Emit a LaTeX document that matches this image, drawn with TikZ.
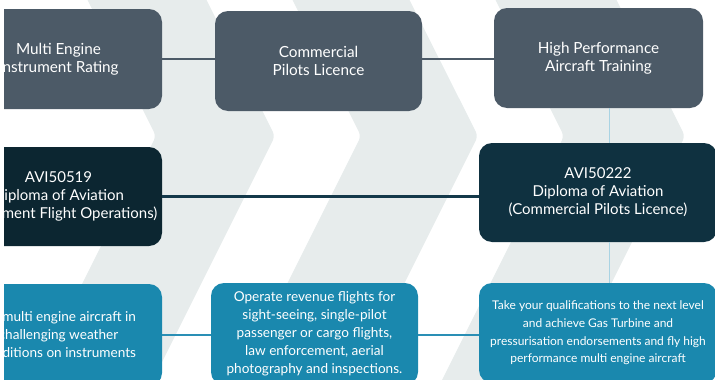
\documentclass[tikz,border=0pt]{standalone}
\usepackage{fontspec}
\setmainfont{Lato}
\definecolor{chevgray}{HTML}{E7ECEC}
\definecolor{boxgray}{HTML}{4C5A67}
\definecolor{navyA}{HTML}{0C2631}
\definecolor{navyB}{HTML}{0F3140}
\definecolor{tealbox}{HTML}{1A88AE}
\definecolor{tealline}{HTML}{2A8FB5}
\definecolor{navyline}{HTML}{14394A}
\definecolor{vline}{HTML}{A9D3E3}
\begin{document}
\begin{tikzpicture}[x=1pt,y=-1pt,
  box/.style={rectangle, rounded corners=13pt, text=white, align=center, inner sep=0pt},
  graybox/.style={box, fill=boxgray, minimum height=100pt, font=\fontsize{15.3}{18}\selectfont},
  navybox/.style={box, minimum height=99pt, font=\fontsize{15}{18}\selectfont},
  tealnode/.style={box, fill=tealbox, font=\fontsize{13.6}{18}\selectfont},
  gconn/.style={draw=boxgray, line width=2.6pt},
  nconn/.style={draw=navyline, line width=2.6pt},
  tconn/.style={draw=tealline, line width=2.2pt},
  vconn/.style={draw=vline, line width=1pt},
  chev/.style={fill=chevgray, rounded corners=5pt}]
\useasboundingbox (0,0) rectangle (715,380);
\begin{scope}
\clip (4,0) rectangle (715,380);
% background chevrons
\foreach \tl/\tr in {156/275, 361/478, 564/685} {
  \fill[chev] (\tl-73.5,-10) -- (\tl,136) -- (\tl-127,390) -- (\tr-127,390) -- (\tr,136) -- (\tr-73.5,-10) -- cycle;
}
% row 1
\node[graybox, minimum width=207pt] (A) at (58.5,59) {Multi Engine\\Instrument Rating};
\node[graybox, minimum width=207pt] (B) at (318.5,61) {Commercial\\Pilots Licence};
\node[graybox, minimum width=209pt] (H) at (598.5,58) {High Performance\\Aircraft Training};
% row 2
\node[navybox, fill=navyA, minimum width=207pt] (D1) at (58.5,196.5) {AVI50519\\Diploma of Aviation\\(Instrument Flight Operations)};
\node[navybox, fill=navyB, minimum width=238pt] (D2) at (598,192.5) {AVI50222\\Diploma of Aviation\\(Commercial Pilots Licence)};
% row 3
\node[tealnode, minimum width=207pt, minimum height=102pt] (L) at (58.5,335) {Fly multi engine aircraft in\\challenging weather\\conditions on instruments};
\node[tealnode, minimum width=207pt, minimum height=102pt] (M) at (314.5,334) {Operate revenue flights for\\sight-seeing, single-pilot\\passenger or cargo flights,\\law enforcement, aerial\\photography and inspections.};
\node[tealnode, minimum width=238pt, minimum height=100pt, font=\fontsize{12}{17.7}\selectfont] (R) at (598,333) {Take your qualifications to the next level\\and achieve Gas Turbine and\\pressurisation endorsements and fly high\\performance multi engine aircraft};
% connectors
\coordinate (vx) at (609,0);
\draw[gconn] (A.east) -- (A.east -| B.west);
\draw[gconn] (A.east -| B.east) -- (A.east -| H.west);
\draw[nconn] (D1.east) -- (D1.east -| D2.west);
\draw[tconn] (L.east) -- (L.east -| M.west);
\draw[tconn] (L.east -| M.east) -- (L.east -| R.west);
\draw[vconn] (H.south -| vx) -- (D2.north -| vx);
\draw[vconn] (D2.south -| vx) -- (R.north -| vx);
\end{scope}
\end{tikzpicture}
\end{document}
